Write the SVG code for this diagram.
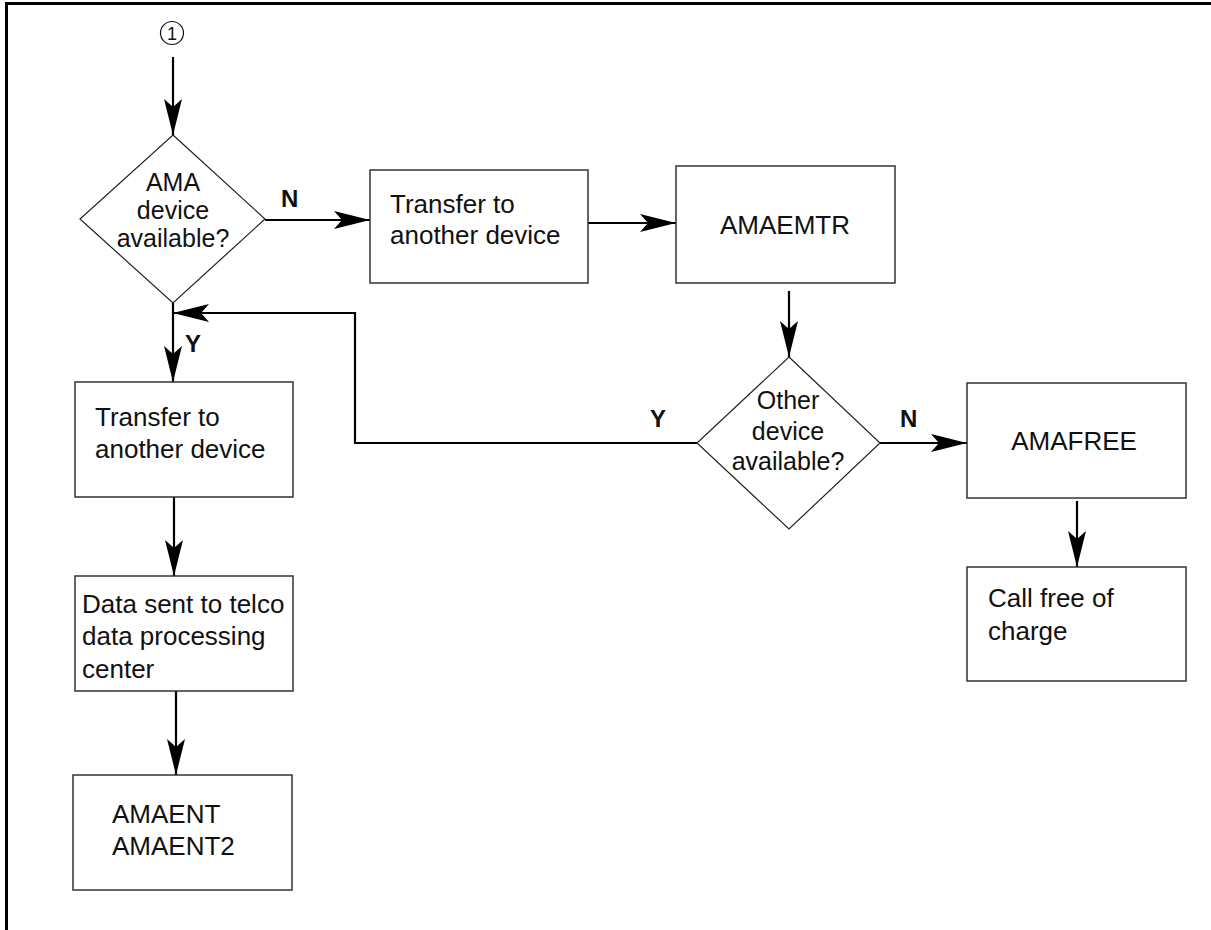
<svg xmlns="http://www.w3.org/2000/svg" width="1211" height="930" viewBox="0 0 1211 930">
<style>
.box{fill:#fff;stroke:#333;stroke-width:1.5}
.dia{fill:#fff;stroke:#222;stroke-width:1.2}
.t{font-family:"Liberation Sans",Arial,sans-serif;font-size:26px;fill:#111}
.td{font-family:"Liberation Sans",Arial,sans-serif;font-size:25px;fill:#111}
.lb{font-family:"Liberation Sans",Arial,sans-serif;font-size:24px;font-weight:bold;fill:#111}
.c{fill:none;stroke:#000;stroke-width:2.2}
</style>
<defs>
<marker id="ah" markerUnits="userSpaceOnUse" markerWidth="40" markerHeight="24" viewBox="-36 -12 40 24" refX="0" refY="0" orient="auto">
<path d="M0,0 L-36,-9 L-28,0 L-36,9 Z" fill="#000"/>
</marker>
</defs>
<rect width="1211" height="930" fill="#fff"/>
<g id="frame">
<path d="M6.5,930 V3.5 H1211" fill="none" stroke="#000" stroke-width="3"/>
</g>
<g id="connector-start">
<circle cx="172" cy="33" r="11.5" fill="#fff" stroke="#111" stroke-width="1.2"/>
<text x="172" y="40" text-anchor="middle" font-family="Liberation Sans,Arial,sans-serif" font-size="18" fill="#111">1</text>
</g>
<g id="connectors">
<path class="c" d="M173,57 V135" marker-end="url(#ah)"/>
<path class="c" d="M265,220 H370" marker-end="url(#ah)"/>
<path class="c" d="M588,223 H676" marker-end="url(#ah)"/>
<path class="c" d="M789,291 V357" marker-end="url(#ah)"/>
<path class="c" d="M697,443 H355 V313 H173" marker-end="url(#ah)"/>
<path class="c" d="M173,303 V382" marker-end="url(#ah)"/>
<path class="c" d="M880,443 H967" marker-end="url(#ah)"/>
<path class="c" d="M174,497 V576" marker-end="url(#ah)"/>
<path class="c" d="M176,691 V775" marker-end="url(#ah)"/>
<path class="c" d="M1077,501 V567" marker-end="url(#ah)"/>
<text class="lb" x="281" y="207">N</text>
<text class="lb" x="185" y="352">Y</text>
<text class="lb" x="650" y="427">Y</text>
<text class="lb" x="900" y="427">N</text>
</g>
<g id="d1">
<polygon class="dia" points="173,135 265,219 173,303 80,219"/>
<text class="td" x="173" y="191" text-anchor="middle">AMA</text>
<text class="td" x="173" y="219" text-anchor="middle">device</text>
<text class="td" x="173" y="247" text-anchor="middle">available?</text>
</g>
<g id="boxA">
<rect class="box" x="370" y="170" width="218" height="113"/>
<text class="t" x="390" y="213">Transfer to</text>
<text class="t" x="390" y="244">another device</text>
</g>
<g id="amaemtr">
<rect class="box" x="676" y="166" width="219" height="117"/>
<text class="t" x="785" y="234" text-anchor="middle">AMAEMTR</text>
</g>
<g id="d2">
<polygon class="dia" points="789,357 880,443 789,529 697,443"/>
<text class="td" x="788" y="409" text-anchor="middle">Other</text>
<text class="td" x="788" y="440" text-anchor="middle">device</text>
<text class="td" x="788" y="470" text-anchor="middle">available?</text>
</g>
<g id="amafree">
<rect class="box" x="967" y="383" width="219" height="115"/>
<text class="t" x="1074" y="450" text-anchor="middle">AMAFREE</text>
</g>
<g id="callfree">
<rect class="box" x="967" y="567" width="219" height="114"/>
<text class="t" x="988" y="607">Call free of</text>
<text class="t" x="988" y="640">charge</text>
</g>
<g id="boxB">
<rect class="box" x="75" y="382" width="218" height="115"/>
<text class="t" x="95" y="426">Transfer to</text>
<text class="t" x="95" y="458">another device</text>
</g>
<g id="boxC">
<rect class="box" x="75" y="576" width="218" height="115"/>
<text class="t" x="82" y="613">Data sent to telco</text>
<text class="t" x="82" y="645">data processing</text>
<text class="t" x="82" y="678">center</text>
</g>
<g id="boxD">
<rect class="box" x="73" y="775" width="219" height="115"/>
<text class="t" x="112" y="823">AMAENT</text>
<text class="t" x="112" y="855">AMAENT2</text>
</g>
</svg>
